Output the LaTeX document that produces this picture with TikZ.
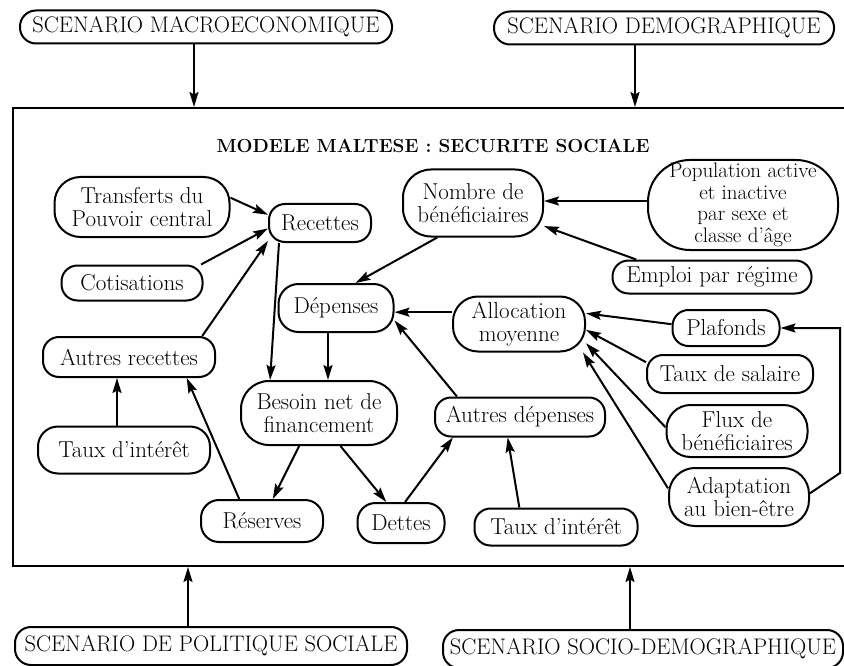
\documentclass[tikz,border=0pt]{standalone}
\usepackage{fontspec}
\usetikzlibrary{arrows.meta}
\newcommand\bodyfont{\fontsize{23}{23.5}\selectfont}
\newcommand\scenfont{\fontsize{22.5}{23}\selectfont}
\newcommand\popfont{\fontsize{21}{21.5}\selectfont}
\newcommand\titlefont{\bfseries\fontsize{18.9}{20}\selectfont}
\begin{document}
\begin{tikzpicture}[x=1pt,y=-1pt,
  box/.style={draw, line width=2pt, rounded corners=#1, align=center, inner sep=0pt, font=\bodyfont},
  box/.default=16pt,
  scen/.style={box, font=\scenfont},
  arr/.style={line width=2pt, -{Stealth[length=15pt,width=9pt,inset=2.5pt]}},
  frm/.style={draw, line width=2pt, inner sep=0pt}]
\useasboundingbox (0,0) rectangle (844,666);

% frame
\node[frm, minimum width=834pt, minimum height=458pt, anchor=north west] (frame) at (12,107) {};

% scenarios
\node[scen, minimum width=372pt, minimum height=33pt] (macro) at (206,27) {SCENARIO MACROECONOMIQUE};
\node[scen, minimum width=340pt, minimum height=33pt] (demo) at (664,28) {SCENARIO DEMOGRAPHIQUE};
\node[scen, minimum width=392pt, minimum height=38pt] (politique) at (211,646) {SCENARIO DE POLITIQUE SOCIALE};
\node[scen, minimum width=400pt, minimum height=38pt] (socio) at (643,649) {SCENARIO SOCIO-DEMOGRAPHIQUE};

% title
\node[font=\titlefont] (title) at (433,146) {MODELE MALTESE : SECURITE SOCIALE};

% inner nodes
\node[box=26pt, minimum width=175pt, minimum height=60pt] (transferts) at (142,207) {Transferts du\\Pouvoir central};
\node[box, minimum width=102pt, minimum height=38pt] (recettes) at (320,223) {Recettes};
\node[box, minimum width=141pt, minimum height=35pt] (cotisations) at (132,283) {Cotisations};
\node[box, minimum width=172pt, minimum height=40pt] (autresrec) at (129,357) {Autres recettes};
\node[box=20pt, minimum width=172pt, minimum height=47pt] (tauxL) at (124,450) {Taux d’intérêt};
\node[box=20pt, minimum width=115pt, minimum height=48pt] (depenses) at (336,308) {Dépenses};
\node[box=28pt, minimum width=156pt, minimum height=64pt] (besoin) at (319,413) {Besoin net de\\financement};
\node[box=18pt, minimum width=122pt, minimum height=42pt] (reserves) at (262,521) {Réserves};
\node[box=18pt, minimum width=87pt, minimum height=40pt] (dettes) at (401,523) {Dettes};
\node[box, minimum width=170pt, minimum height=39pt] (autresdep) at (520,417) {Autres dépenses};
\node[box, minimum width=163pt, minimum height=37pt] (tauxR) at (556,527) {Taux d’intérêt};
\node[box=28pt, minimum width=140pt, minimum height=67pt] (nombre) at (473,203) {Nombre de\\bénéficiaires};
\node[box=42pt, minimum width=190pt, minimum height=90pt, font=\popfont] (population) at (743,205) {Population active\\et inactive\\par sexe et\\classe d’âge};
\node[box, minimum width=199pt, minimum height=33pt] (emploi) at (712,277) {Emploi par régime};
\node[box=25pt, minimum width=132pt, minimum height=55pt] (allocation) at (519,324) {Allocation\\moyenne};
\node[box, minimum width=107pt, minimum height=36pt] (plafonds) at (726,328) {Plafonds};
\node[box, minimum width=166pt, minimum height=38pt] (salaire) at (730,374) {Taux de salaire};
\node[box=24pt, minimum width=141pt, minimum height=52pt] (flux) at (737,431) {Flux de\\bénéficiaires};
\node[box=26pt, minimum width=140pt, minimum height=58pt] (adaptation) at (739,497) {Adaptation\\au bien-être};

% scenario arrows
\coordinate (ma) at (194,0);
\coordinate (da) at (635,0);
\coordinate (pa) at (188,0);
\coordinate (sa) at (630,0);
\draw[arr] (macro.south -| ma) -- (frame.north -| ma);
\draw[arr] (demo.south -| da) -- (frame.north -| da);
\draw[arr] (politique.north -| pa) -- (frame.south -| pa);
\draw[arr] (socio.north -| sa) -- (frame.south -| sa);

% inner arrows
\draw[arr] (transferts.6) -- (recettes.171);
\draw[arr] (cotisations.15) -- (recettes.186);
\draw[arr] (autresrec.16) -- (recettes.199);
\draw[arr] ([xshift=-7pt]tauxL.north) -- ([xshift=-12pt]autresrec.south);
\draw[arr] (reserves.136) -- (autresrec.-20);
\draw[arr] (recettes.206) -- (besoin.146);
\draw[arr] ([xshift=-8pt]depenses.south) -- ([xshift=9pt]besoin.north);
\draw[arr] (besoin.239) -- (reserves.64);
\draw[arr] (besoin.303) -- (dettes.125);
\draw[arr] (dettes.79) -- (autresdep.197);
\draw[arr] (tauxR.152) -- (autresdep.239);
\draw[arr] (autresdep.162) -- (depenses.-12);
\draw[arr] (allocation.170) -- (allocation.170 -| depenses.east);
\draw[arr] (nombre.224) -- (depenses.52);
\draw[arr] ([yshift=4pt]population.west) -- ([yshift=4pt]population.west -| nombre.east);
\draw[arr] (emploi.167) -- (nombre.-18);
\draw[arr] (plafonds.176) -- (allocation.9);
\draw[arr] (salaire.172) -- (allocation.-5);
\draw[arr] (flux.177) -- (allocation.-16);
\draw[arr] (adaptation.173) -- (allocation.-24);
\coordinate (loop) at (840,473);
\draw[arr] (adaptation.3) -- (loop) |- (plafonds.east);
\end{tikzpicture}
\end{document}
